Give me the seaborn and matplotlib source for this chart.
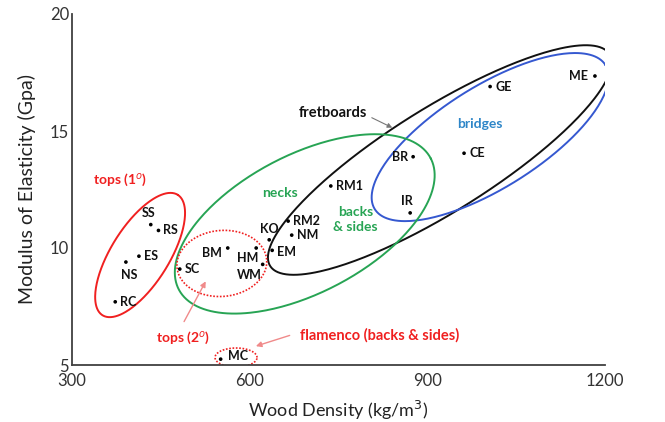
import numpy as np
import pandas as pd
import seaborn as sns
import matplotlib
matplotlib.use("Agg")
import matplotlib.pyplot as plt

# wood samples: name, density (kg/m3), modulus of elasticity (GPa)
names = ["RC", "NS", "ES", "SS", "RS", "SC", "BM", "HM", "WM", "KO",
         "EM", "RM2", "NM", "RM1", "IR", "BR", "CE", "GE", "ME", "MC"]
density = [373, 391, 413, 433, 446, 482, 563, 611, 622, 633,
           638, 665, 671, 737, 871, 876, 962, 1006, 1183, 551]
moe = [7.7, 9.4, 9.65, 11.0, 10.75, 9.1, 10.0, 10.0, 9.3, 10.35,
       9.9, 11.15, 10.55, 12.65, 11.5, 13.9, 14.05, 16.9, 17.35, 5.25]

x_ticks = [300, 600, 900, 1200]
y_ticks = [5, 10, 15, 20]

df = pd.DataFrame({"name": names, "density": density, "moe": moe})

sns.set_style("white")
plt.rcParams["font.family"] = ["Lato", "DejaVu Sans"]

fig = plt.figure(figsize=(6.65, 4.22), dpi=100)
ax = fig.add_axes([72 / 665, 57 / 422, 533 / 665, 351 / 422])

sns.scatterplot(data=df, x="density", y="moe", color="black", s=7,
                edgecolor="none", ax=ax, zorder=5)

ax.set_xlim(300, 1200)
ax.set_ylim(5, 20)
ax.set_xticks(x_ticks)
ax.set_yticks(y_ticks)
sns.despine(ax=ax)
for s in ["left", "bottom"]:
    ax.spines[s].set_color("#404040")
    ax.spines[s].set_linewidth(1.3)
ax.tick_params(direction="in", length=6, width=1.3, color="#404040",
               labelsize=12, labelcolor="#333333")
ax.tick_params(axis="x", pad=6)
ax.tick_params(axis="y", pad=2)
ax.set_xlabel("Wood Density (kg/m$^3$)", fontsize=13, color="#222222", labelpad=7)
ax.set_ylabel("Modulus of Elasticity (Gpa)", fontsize=14, color="#222222", labelpad=10)

# point labels: (offset in pixels, ha)
lab_pos = {
    "RC": ((5, 0), "left"), "NS": ((3, -13), "center"), "ES": ((5, 0), "left"),
    "SS": ((-2, 12), "center"), "RS": ((5, 0), "left"), "SC": ((5, 0), "left"),
    "BM": ((-6, -5), "right"), "HM": ((2, -10), "right"), "WM": ((-1, -11), "right"),
    "KO": ((0, 11), "center"), "EM": ((5, -2), "left"), "RM2": ((5, 0), "left"),
    "NM": ((5, 0), "left"), "RM1": ((5, 0), "left"), "IR": ((-3, 12), "center"),
    "BR": ((-5, 0), "right"), "CE": ((5, 0), "left"), "GE": ((5, 0), "left"),
    "ME": ((-7, 0), "right"), "MC": ((7, 3), "left"),
}
for n, xv, yv in zip(names, density, moe):
    off, ha = lab_pos[n]
    ax.annotate(n, (xv, yv), xytext=off, textcoords="offset pixels",
                ha=ha, va="center", fontsize=9, fontweight="bold", color="#111111")


def draw_ellipse(cx, cy, a, b, ang, **kw):
    # center in data units, half axes in pixels, angle in degrees on screen
    t = np.linspace(0, 2 * np.pi, 300)
    r = np.deg2rad(ang)
    dx = a * np.cos(t) * np.cos(r) - b * np.sin(t) * np.sin(r)
    dy = a * np.cos(t) * np.sin(r) + b * np.sin(t) * np.cos(r)
    c = ax.transData.transform((cx, cy))
    pts = ax.transData.inverted().transform(np.column_stack([c[0] + dx, c[1] + dy]))
    ax.plot(pts[:, 0], pts[:, 1], **kw)


red = "#f02020"
green = "#27a454"
blue = "#3558d0"
pink = "#f08a8a"

draw_ellipse(921, 13.76, 200, 52, 32, color="#111111", lw=1.4)
draw_ellipse(1006, 14.74, 136, 51, 32, color=blue, lw=1.4)
draw_ellipse(693, 11.03, 142, 69, 27.5, color=green, lw=1.4)
draw_ellipse(415, 9.70, 71, 29, 58, color=red, lw=1.4)
draw_ellipse(553, 9.34, 45, 33, 5, color=red, lw=1.2, ls=(0, (1, 1)))
draw_ellipse(577, 5.32, 21, 9.5, 0, color=red, lw=1.2, ls=(0, (1, 1)))

tk = dict(fontweight="bold", ha="center", va="center")
ax.text(381, 12.9, "tops (1$^o$)", color=red, fontsize=10, **tk)
ax.text(487, 6.15, "tops (2$^o$)", color=red, fontsize=10, **tk)
ax.text(651, 12.35, "necks", color=green, fontsize=10, **tk)
ax.text(779, 11.2, "backs\n& sides", color=green, fontsize=10, linespacing=1.3, **tk)
ax.text(989, 15.3, "bridges", color="#2e86c8", fontsize=10, **tk)
ax.text(820, 6.28, "flamenco (backs & sides)", color=red, fontsize=10.5, **tk)
ax.text(741, 15.77, "fretboards", color="#111111", fontsize=10.5, **tk)

ax.annotate("", xy=(528, 8.68), xytext=(487, 6.75),
            arrowprops=dict(arrowstyle="-|>", color=pink, lw=1, mutation_scale=8))
ax.annotate("", xy=(606, 5.77), xytext=(672, 6.3),
            arrowprops=dict(arrowstyle="-|>", color=pink, lw=1, mutation_scale=8))
ax.annotate("", xy=(845, 15.09), xytext=(802, 15.62),
            arrowprops=dict(arrowstyle="-|>", color="#777777", lw=0.8, mutation_scale=7))

fig.savefig("out.png", dpi=100)
